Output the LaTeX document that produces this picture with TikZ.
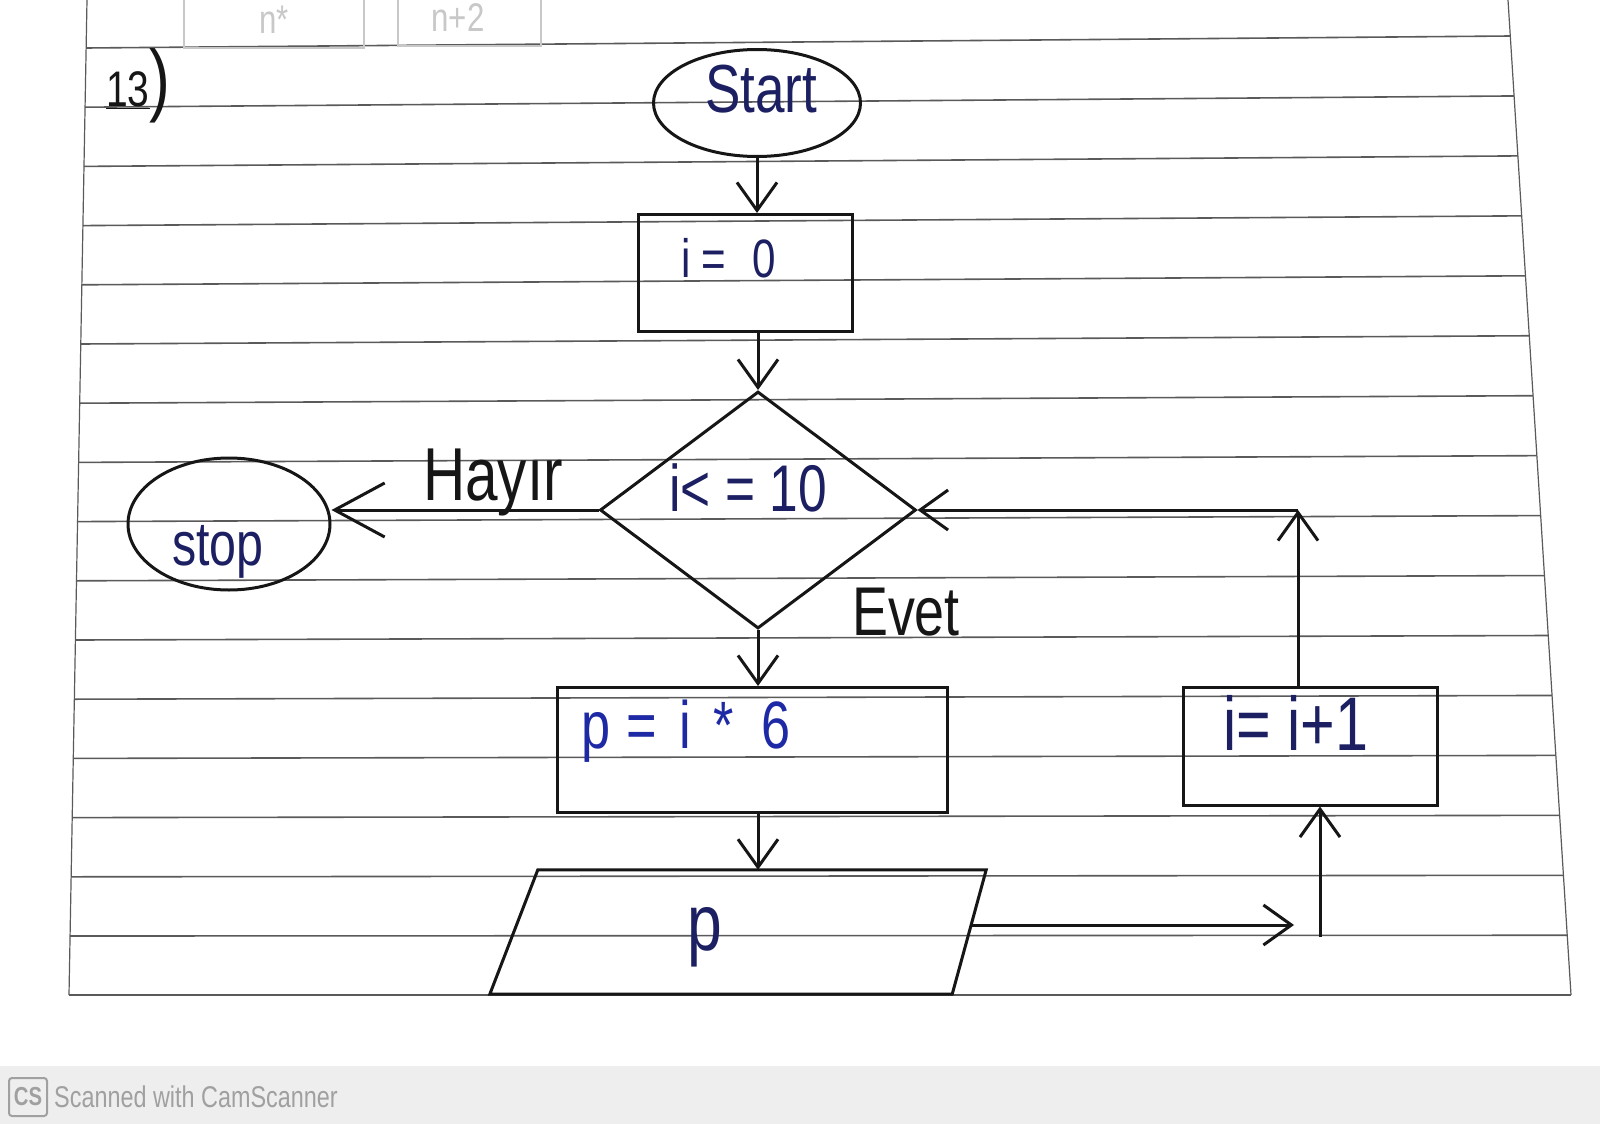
\documentclass[tikz,border=0pt]{standalone}
\usepackage{fontspec}
\setmainfont{Liberation Sans}
\newfontfamily\hand[FakeStretch=0.78]{Liberation Sans}
\usetikzlibrary{shapes.geometric,arrows.meta}
\definecolor{ink}{RGB}{22,22,22}
\definecolor{navy}{RGB}{28,32,98}
\definecolor{blueink}{RGB}{30,42,165}
\definecolor{rule}{RGB}{90,90,90}
\definecolor{faint}{RGB}{200,200,200}
\definecolor{scan}{RGB}{160,160,160}
\definecolor{strip}{RGB}{238,238,238}
\begin{document}
\begin{tikzpicture}[x=1pt,y=-1pt,
  pen/.style={draw=ink,line width=3pt},
  box/.style={pen,rectangle,inner sep=0pt},
  oval/.style={pen,ellipse,inner sep=0pt},
  decide/.style={pen,diamond,inner sep=0pt},
  frame/.style={rectangle,inner sep=0pt},
  flow/.style={pen,-{Straight Barb[length=28pt,width=40pt]}},
  flowbig/.style={pen,-{Straight Barb[length=50pt,width=54pt]}},
  txt/.style={font=\hand\fontsize{#1}{#1}\selectfont,inner sep=0pt,anchor=base},
  paperline/.style={draw=rule,line width=1.6pt}
]
\useasboundingbox (0,0) rectangle (1600,1124);
\fill[white] (0,0) rectangle (1600,1124);
\fill[strip] (0,1066) rectangle (1600,1124);
% notebook page
\foreach \i in {0,...,16}{
  \pgfmathsetmacro\yl{48+59.2*\i}
  \pgfmathsetmacro\yr{\yl-12+0.75*\i}
  \pgfmathsetmacro\xl{87-0.01809*\yl}
  \pgfmathsetmacro\xr{1508+0.06332*\yr}
  \draw[paperline] (\xl,\yl) -- (\xr,\yr);
}
\draw[paperline,line width=1.2pt] (87,0) -- (69,995);
\draw[paperline,line width=1.2pt] (1508,0) -- (1571,995);
% faint marks from the previous exercise
\draw[faint,line width=1.5pt] (184,-5) rectangle (364,48);
\draw[faint,line width=1.5pt] (398,-5) rectangle (541,46);
\node[txt=40,text=faint] (prevA) at (274,34) {n*};
\node[txt=40,text=faint] (prevB) at (458,32) {n+2};
% exercise number
\node[txt=50,text=ink,anchor=base west] (num) at (106,106) {\underline{13}{\fontsize{80}{80}\selectfont)}};
% shapes
\node[oval,minimum width=207pt,minimum height=107pt] (start) at (757,103) {};
\node[txt=68,text=navy] (startT) at (761,112) {Start};
\node[box,minimum width=214pt,minimum height=117pt] (init) at (745,273) {};
\node[txt=54,text=navy,anchor=base west] (initT) at (681,277) {i\hspace{11pt}=\hspace{26pt}0};
\node[decide,minimum width=316pt,minimum height=237pt] (test) at (758,510) {};
\node[txt=66,text=navy] (testT) at (748,511) {i< = 10};
\node[oval,minimum width=202pt,minimum height=132pt] (stop) at (229,524) {};
\node[txt=62,text=navy] (stopT) at (218,565) {stop};
\node[box,minimum width=390pt,minimum height=125pt] (calc) at (752,750) {};
\node[txt=67,text=blueink,anchor=base west] (calcT) at (581,748) {p\hspace{16pt}=\hspace{23pt}i\hspace{22pt}*\hspace{28pt}6};
\node[box,minimum width=254pt,minimum height=118pt] (inc) at (1310,746) {};
\node[txt=76,text=navy] (incT) at (1296,750) {i= i+1};
\node[frame,minimum width=496pt,minimum height=124pt] (out) at (738,932) {};
\draw[pen] ([xshift=48pt]out.north west) -- (out.north east)
  -- ([xshift=-34pt]out.south east) -- (out.south west) -- cycle;
\node[txt=80,text=navy] (outT) at (705,950) {p};
% branch labels
\node[txt=75,text=ink] (no) at (493,500) {Hayır};
\node[txt=69,text=ink] (yes) at (906,635) {Evet};
% connectors
\coordinate (outR) at ([xshift=-15pt,yshift=7pt]out.east);
\coordinate (corner) at (1294,925);
\coordinate (foot) at (1320,937);
\coordinate (top) at (1298,510);
\draw[flow] (start.south) -- (start.south |- init.north);
\draw[flow] (init.south -| test.north) -- (test.north);
\draw[flow] (test.south) -- (test.south |- calc.north);
\draw[flow] (calc.south -| test.south) -- (out.north -| test.south);
\draw[flowbig] (test.west) -- (test.west -| stop.east);
\draw[flow] (outR) -- (outR -| corner);
\draw[flow] (foot) -- (foot |- inc.south);
\draw[flow] (inc.north -| top) -- (top);
\draw[flow] (top) -- (test.east);
% scanner footer
\node[draw=scan,line width=2pt,rounded corners=3pt,text=scan,minimum width=38pt,minimum height=38pt,inner sep=0pt,font=\hand\fontsize{26}{26}\selectfont\bfseries] (cs) at (28,1097) {CS};
\node[txt=30,text=scan,anchor=west] (scanT) at (54,1097) {Scanned with CamScanner};
\end{tikzpicture}
\end{document}
